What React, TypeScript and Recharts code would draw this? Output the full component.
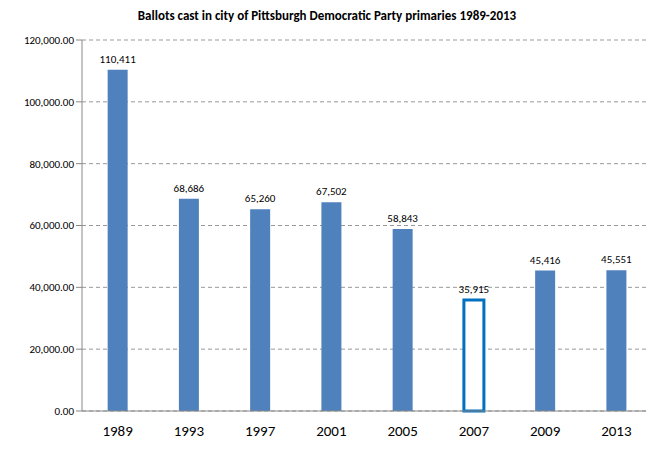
import { BarChart, Bar, XAxis, YAxis, CartesianGrid, LabelList, Cell } from 'recharts';

const years = ['1989', '1993', '1997', '2001', '2005', '2007', '2009', '2013'];
const ballots = [110411, 68686, 65260, 67502, 58843, 35915, 45416, 45551];
const yTicks = [0, 20000, 40000, 60000, 80000, 100000, 120000];

const data = years.map((year, i) => ({ year, ballots: ballots[i] }));

export default function App() {
  return (
    <div style={{ margin: -8, width: 654, height: 450, position: 'relative', fontFamily: 'Calibri, Carlito, "Liberation Sans", Arial, sans-serif' }}>
      <div style={{ position: 'absolute', top: 8, width: 654, textAlign: 'center', fontWeight: 'bold', fontSize: 13 }}>
        Ballots cast in city of Pittsburgh Democratic Party primaries 1989-2013
      </div>
      <BarChart width={654} height={450} data={data} margin={{ top: 40, right: 2, left: 0, bottom: 9 }} barCategoryGap="36%">
        <CartesianGrid vertical={false} strokeDasharray="4 3" stroke="#999" />
        <XAxis dataKey="year" tickLine={false} axisLine={{ stroke: '#888' }} tick={{ fontSize: 15, fill: '#000' }} tickMargin={8} height={30} />
        <YAxis width={82} domain={[0, 120000]} ticks={yTicks} tickLine={{ stroke: '#888' }} axisLine={{ stroke: '#888' }}
          tick={{ fontSize: 11, fill: '#000' }} tickFormatter={(v: number) => v.toLocaleString('en-US', { minimumFractionDigits: 2 })} />
        <Bar dataKey="ballots" fill="#4f81bd" isAnimationActive={false}>
          {data.map((d) => (
            <Cell key={d.year} fill={d.year === '2007' ? '#fff' : '#4f81bd'} stroke={d.year === '2007' ? '#0070c0' : 'none'} strokeWidth={d.year === '2007' ? 3 : 0} />
          ))}
          <LabelList dataKey="ballots" position="top" offset={7} style={{ fontSize: 11, fill: '#000' }} formatter={(v: number) => v.toLocaleString('en-US')} />
        </Bar>
      </BarChart>
    </div>
  );
}
